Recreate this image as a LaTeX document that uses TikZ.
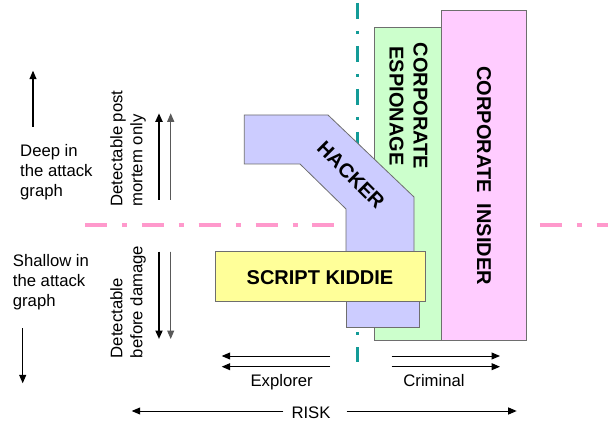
\documentclass[tikz,border=0pt]{standalone}
\usepackage{fontspec}
\setmainfont{Liberation Sans}
\usetikzlibrary{arrows.meta}
\definecolor{hackblue}{HTML}{CCCCFF}
\definecolor{kidyellow}{HTML}{FFFF99}
\definecolor{espgreen}{HTML}{CCFFCC}
\definecolor{inspink}{HTML}{FFCCFF}
\definecolor{tealline}{HTML}{139B97}
\definecolor{pinkline}{HTML}{FF99CC}
\definecolor{edgegray}{HTML}{6E6E6E}
\begin{document}
\begin{tikzpicture}[x=1pt,y=-1pt,
  box/.style={draw=edgegray, line width=0.8pt},
  lbl/.style={font=\fontsize{16.7}{20}\selectfont, inner sep=0pt},
  blbl/.style={font=\bfseries\fontsize{20}{24}\selectfont, inner sep=0pt},
  tip/.style={-{Triangle[length=8.5pt,width=7pt]}},
  arr/.style={tip, line width=1.2pt},
  thinline/.style={line width=1pt},
  thickarr/.style={tip, line width=1.8pt},
  thinarr/.style={tip, line width=1.1pt, draw=black!65, fill=black!65},
  hline/.style={draw=pinkline, line width=4pt, dash pattern=on 22pt off 15pt on 5pt off 14.85pt},
  vline/.style={draw=tealline, line width=3.5pt, dash pattern=on 16pt off 12pt on 3pt off 12pt}]
\useasboundingbox (0,0) rectangle (608,422);
\fill[white] (0,0) rectangle (608,422);

% dash-dot guide lines
\coordinate (hl) at (85,224.7);
\coordinate (hr) at (608,224.7);
\coordinate (vt) at (357.7,3);
\coordinate (vb) at (357.7,362);
\draw[hline] (hl) -- (hr);
\draw[vline] (vt) -- (vb);

% shapes
\path[box, fill=espgreen] (374,27.7) rectangle (441.7,340);
\path[box, fill=inspink] (441.7,10) rectangle (526.7,340);
\path[box, fill=hackblue] (244.3,115) -- (328,115) -- (414,197) -- (414,300) -- (346,300) -- (346,209) -- (300,164) -- (244.3,164) -- cycle;
\path[box, fill=hackblue] (346,285) rectangle (419.3,327.7);
\path[box, fill=kidyellow] (215.7,251.7) rectangle (425.7,301);

% shape labels
\node[blbl, rotate=-45] (hacker) at (351,175) {HACKER};
\node[blbl] (kiddie) at (320,277.5) {SCRIPT KIDDIE};
\node[blbl, rotate=-90, align=center] (esp) at (408.5,106) {CORPORATE\\ESPIONAGE};
\node[blbl, rotate=-90] (ins) at (484,175.8) {CORPORATE\ \ INSIDER};

% left side texts
\node[lbl, align=left, anchor=west] (deep) at (20,172.3) {Deep in\\the attack\\graph};
\node[lbl, align=left, anchor=west] (shallow) at (12.7,282.3) {Shallow in\\the attack\\graph};
\node[lbl, align=left, anchor=west, rotate=90] (postm) at (128,206.7) {Detectable post\\mortem only};
\node[lbl, align=left, anchor=west, rotate=90] (befd) at (128,358.3) {Detectable\\before damage};

% left arrows
\coordinate (upS) at (33,126.7);
\coordinate (upE) at (33,70.7);
\coordinate (dnS) at (22.7,328.3);
\coordinate (dnE) at (22.7,383.3);
\draw[arr] (upS) -- (upE);
\draw[arr] (dnS) -- (dnE);

% detectability arrows
\coordinate (a1s) at (159,200);
\coordinate (a1e) at (159,113.3);
\coordinate (a2s) at (170.7,200);
\coordinate (a2e) at (170.7,113.3);
\coordinate (b1s) at (159,251.7);
\coordinate (b1e) at (159,339);
\coordinate (b2s) at (170.7,251.7);
\coordinate (b2e) at (170.7,339);
\draw[thickarr] (a1s) -- (a1e);
\draw[thinarr] (a2s) -- (a2e);
\draw[thickarr] (b1s) -- (b1e);
\draw[thinarr] (b2s) -- (b2e);

% explorer / criminal arrows
\coordinate (e1s) at (330,356);
\coordinate (e1e) at (221.7,356);
\coordinate (e2s) at (330,366.7);
\coordinate (e2e) at (221.7,366.7);
\coordinate (c1s) at (391.7,356);
\coordinate (c1e) at (500,356);
\coordinate (c2s) at (391.7,366.7);
\coordinate (c2e) at (500,366.7);
\draw[arr, thinline] (e1s) -- (e1e);
\draw[arr, thinline] (e2s) -- (e2e);
\draw[arr, thinline] (c1s) -- (c1e);
\draw[arr, thinline] (c2s) -- (c2e);
\node[lbl, anchor=base] (explorer) at (281.7,386.7) {Explorer};
\node[lbl, anchor=base] (criminal) at (434,386.7) {Criminal};

% risk
\node[lbl, anchor=base] (risk) at (311,418.7) {RISK};
\coordinate (rls) at (283.3,411);
\coordinate (rl) at (131.7,411);
\coordinate (rrs) at (346.7,411);
\coordinate (rr) at (516.7,411);
\draw[arr, thinline] (rls) -- (rl);
\draw[arr, thinline] (rrs) -- (rr);
\end{tikzpicture}
\end{document}
